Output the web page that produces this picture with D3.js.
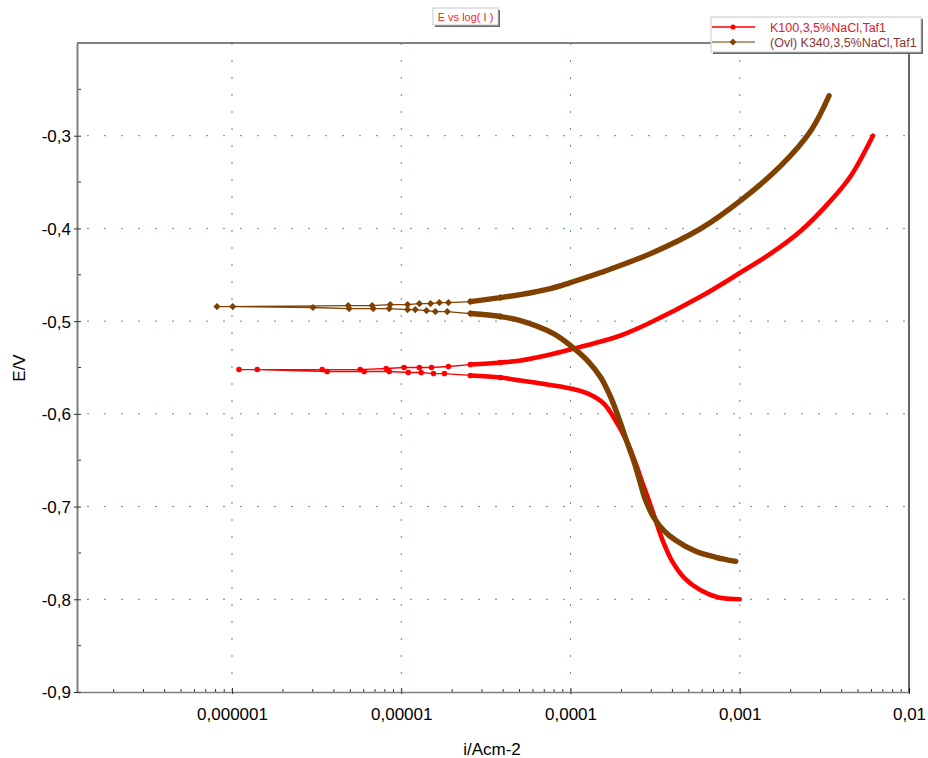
<!DOCTYPE html>
<html>
<head>
<meta charset="utf-8">
<script src="https://cdn.jsdelivr.net/npm/d3@7"></script>
<style>
  html, body { margin: 0; padding: 0; background: #fff; }
  svg { display: block; font-family: "Liberation Sans", Arial, sans-serif; }
</style>
</head>
<body>
<svg id="chart" width="928" height="758"></svg>
<script>
// ---- data (i in A/cm², E in V), in scan order ----
const seriesNames = ["K100,3,5%NaCl,Taf1", "(Ovl) K340,3,5%NaCl,Taf1"];
const k100 = [
  [1.0e-3, -0.800], [7.41e-4, -0.7978], [5.88e-4, -0.7903], [4.73e-4, -0.7774],
  [3.96e-4, -0.7580], [3.50e-4, -0.7364], [3.14e-4, -0.7116], [2.90e-4, -0.6933],
  [2.63e-4, -0.6718], [2.39e-4, -0.6502], [2.14e-4, -0.6287], [1.80e-4, -0.6039],
  [1.57e-4, -0.5888], [1.26e-4, -0.5780], [1.00e-4, -0.5726], [7.93e-5, -0.5694],
  [5.06e-5, -0.5640], [3.85e-5, -0.5608], [2.56e-5, -0.5586],
  [1.80e-5, -0.5565], [1.55e-5, -0.5565], [1.31e-5, -0.5554], [1.10e-5, -0.5554],
  [8.49e-6, -0.5543], [6.04e-6, -0.5543], [3.65e-6, -0.5543], [1.41e-6, -0.5522],
  [1.10e-6, -0.5522], [3.41e-6, -0.5522], [5.72e-6, -0.5522], [8.15e-6, -0.5511],
  [1.04e-5, -0.5500], [1.28e-5, -0.5500], [1.51e-5, -0.5500], [1.90e-5, -0.5489],
  [2.56e-5, -0.5468], [3.85e-5, -0.5446], [5.06e-5, -0.5425], [7.62e-5, -0.5360],
  [1.00e-4, -0.5306], [1.51e-4, -0.5220], [1.98e-4, -0.5155], [2.97e-4, -0.5015],
  [5.88e-4, -0.4735], [1.01e-3, -0.4476], [1.52e-3, -0.4272], [2.30e-3, -0.4024],
  [3.45e-3, -0.3700], [4.54e-3, -0.3431], [6.12e-3, -0.3000]
];
const k340 = [
  [9.47e-4, -0.7591], [7.21e-4, -0.7547], [5.49e-4, -0.7483], [4.18e-4, -0.7364],
  [3.55e-4, -0.7256], [3.10e-4, -0.7116], [2.78e-4, -0.6933], [2.56e-4, -0.6718],
  [2.36e-4, -0.6502], [2.14e-4, -0.6287], [1.95e-4, -0.6071], [1.73e-4, -0.5823],
  [1.51e-4, -0.5608], [1.26e-4, -0.5425], [1.00e-4, -0.5263], [7.93e-5, -0.5134],
  [5.06e-5, -0.4994], [3.85e-5, -0.4950], [2.56e-5, -0.4918],
  [1.87e-5, -0.4897], [1.59e-5, -0.4897], [1.41e-5, -0.4886],
  [1.21e-5, -0.4875], [1.09e-5, -0.4875], [8.49e-6, -0.4864], [6.83e-6, -0.4864],
  [4.92e-6, -0.4864], [3.01e-6, -0.4853], [1.01e-6, -0.4843], [8.15e-7, -0.4843],
  [4.86e-6, -0.4832], [6.73e-6, -0.4832], [8.61e-6, -0.4821], [1.09e-5, -0.4821],
  [1.28e-5, -0.4810], [1.49e-5, -0.4810], [1.68e-5, -0.4800], [1.90e-5, -0.4800],
  [2.56e-5, -0.4789], [3.85e-5, -0.4746], [5.06e-5, -0.4714], [7.62e-5, -0.4649],
  [1.00e-4, -0.4584], [1.51e-4, -0.4476], [2.97e-4, -0.4272], [5.88e-4, -0.4002],
  [1.01e-3, -0.3700], [1.75e-3, -0.3323], [2.63e-3, -0.2946], [3.37e-3, -0.2569]
];
const xTicks = [1e-6, 1e-5, 1e-4, 1e-3, 1e-2];
const xTickLabels = ["0,000001", "0,00001", "0,0001", "0,001", "0,01"];
const yTicks = [-0.9, -0.8, -0.7, -0.6, -0.5, -0.4, -0.3];
const yTickLabels = ["-0,9", "-0,8", "-0,7", "-0,6", "-0,5", "-0,4", "-0,3"];
const xDomain = [1.214e-7, 1e-2];
const yDomain = [-0.9, -0.2];

// ---- layout / style ----
const L = 77, R = 909, T = 43, B = 692;
const colors = ["#ff0000", "#804000"];
const legendLineColors = ["#ff0000", "#a07850"];
const legendTextColors = ["#d8202c", "#8a3434"];
const denseMin = 2.5e-5;   // above this current the points are packed into a thick trace
const markerMax = 4e-5;
const gridColor = "#5e9090";
const FONT = "Liberation Sans, Arial, sans-serif";

const svg = d3.select("#chart");
const x = d3.scaleLog().domain(xDomain).range([L, R]);
const y = d3.scaleLinear().domain(yDomain).range([B, T]);

// grid
const grid = svg.append("g");
xTicks.filter(v => x(v) < R - 1).forEach(v => {
  grid.append("line").attr("x1", x(v)).attr("x2", x(v)).attr("y1", T).attr("y2", B)
    .attr("stroke", gridColor).attr("stroke-width", 1).attr("stroke-dasharray", "2,15");
});
yTicks.filter(v => y(v) < B - 1).forEach(v => {
  grid.append("line").attr("x1", L).attr("x2", R).attr("y1", y(v)).attr("y2", y(v))
    .attr("stroke", gridColor).attr("stroke-width", 1).attr("stroke-dasharray", "2,15")
    .attr("stroke-dashoffset", -10);
});

// minor ticks on x (log)
const minorX = [];
for (let e = -7; e <= -3; e++) for (let m = 2; m <= 9; m++) {
  const v = m * Math.pow(10, e);
  if (v > xDomain[0] && v < xDomain[1]) minorX.push(v);
}
svg.append("g").selectAll("line").data(minorX).join("line")
  .attr("x1", d => x(d)).attr("x2", d => x(d)).attr("y1", B - 3).attr("y2", B)
  .attr("stroke", "#333").attr("stroke-width", 1);
// minor ticks on y
const minorY = d3.range(-0.85, -0.2, 0.1);
svg.append("g").selectAll("line").data(minorY).join("line")
  .attr("x1", L).attr("x2", L + 4).attr("y1", d => y(d)).attr("y2", d => y(d))
  .attr("stroke", "#333").attr("stroke-width", 1);

// axes with D3
const xAxis = d3.axisBottom(x).tickValues(xTicks).tickFormat((d, i) => xTickLabels[i])
  .tickSizeInner(4).tickSizeOuter(0).tickPadding(12);
const gx = svg.append("g").attr("transform", `translate(0,${B})`).call(xAxis);
gx.attr("font-size", null).attr("font-family", null);
gx.select(".domain").attr("stroke", "#808080").attr("stroke-width", 1.5);
gx.selectAll(".tick line").attr("stroke", "#333").attr("y1", -4).attr("y2", 2);
gx.selectAll(".tick text").style("font-size", "17px").attr("fill", "#000")
  .style("font-family", FONT);

const yAxis = d3.axisLeft(y).tickValues(yTicks).tickFormat((d, i) => yTickLabels[i])
  .tickSizeInner(3).tickSizeOuter(0).tickPadding(3);
const gy = svg.append("g").attr("transform", `translate(${L},0)`).call(yAxis);
gy.attr("font-size", null).attr("font-family", null);
gy.select(".domain").attr("stroke", "#808080").attr("stroke-width", 2);
gy.selectAll(".tick line").attr("stroke", "#333").attr("x1", -3).attr("x2", 4);
gy.selectAll(".tick text").style("font-size", "17px").attr("fill", "#000").attr("dy", "0.35em")
  .style("font-family", FONT);

// frame: top gray, right black
svg.append("line").attr("x1", L).attr("x2", R).attr("y1", T).attr("y2", T)
  .attr("stroke", "#808080").attr("stroke-width", 2);
svg.append("line").attr("x1", R).attr("x2", R).attr("y1", T).attr("y2", B)
  .attr("stroke", "#000").attr("stroke-width", 1.2);

// axis titles
svg.append("text").attr("x", 492).attr("y", 755).attr("text-anchor", "middle")
  .style("font-size", "17px").text("i/Acm-2");
svg.append("text").attr("transform", `translate(25,368) rotate(-90)`)
  .attr("text-anchor", "middle").style("font-size", "17px").text("E/V");

// series
const thin = d3.line().x(d => x(d[0])).y(d => y(d[1]));
const thick = d3.line().defined(d => d[0] >= denseMin)
  .x(d => x(d[0])).y(d => y(d[1])).curve(d3.curveCatmullRom.alpha(0.5));
const plot = svg.append("g");
const diamond = s => `M0,${-s}L${s},0L0,${s}L${-s},0Z`;

[k100, k340].forEach((data, si) => {
  const c = colors[si];
  plot.append("path").datum(data).attr("d", thin).attr("fill", "none")
    .attr("stroke", c).attr("stroke-width", 1.3);
  plot.append("path").datum(data).attr("d", thick).attr("fill", "none")
    .attr("stroke", c).attr("stroke-width", si === 0 ? 4.6 : 5.4)
    .attr("stroke-linecap", "round").attr("stroke-linejoin", "round");
  const sparse = data.filter(d => d[0] < markerMax);
  if (si === 0) {
    plot.append("g").selectAll("circle").data(sparse).join("circle")
      .attr("cx", d => x(d[0])).attr("cy", d => y(d[1])).attr("r", 2.8).attr("fill", c);
  } else {
    plot.append("g").selectAll("path").data(sparse).join("path")
      .attr("transform", d => `translate(${x(d[0])},${y(d[1])})`)
      .attr("d", diamond(3.6)).attr("fill", c);
  }
});

// title box
const tb = svg.append("g");
tb.append("rect").attr("x", 435).attr("y", 10).attr("width", 65).attr("height", 17).attr("fill", "#666");
tb.append("rect").attr("x", 433).attr("y", 8).attr("width", 65).attr("height", 17)
  .attr("fill", "#fff").attr("stroke", "#c8c8c8").attr("stroke-width", 1);
tb.append("text").attr("x", 465.5).attr("y", 21).attr("text-anchor", "middle")
  .style("font-size", "11px").attr("fill", "#ff2020").text("E vs log( I )");

// legend
const lg = svg.append("g");
lg.append("rect").attr("x", 713).attr("y", 19).attr("width", 210).attr("height", 35).attr("fill", "#666");
lg.append("rect").attr("x", 711).attr("y", 17).attr("width", 210).attr("height", 35)
  .attr("fill", "#fff").attr("stroke", "#c8c8c8").attr("stroke-width", 1);
seriesNames.forEach((name, i) => {
  const yy = 27 + i * 15;
  lg.append("line").attr("x1", 712).attr("x2", 755).attr("y1", yy).attr("y2", yy)
    .attr("stroke", legendLineColors[i]).attr("stroke-width", 1.3);
  if (i === 0) lg.append("circle").attr("cx", 733).attr("cy", yy).attr("r", 2.6).attr("fill", colors[0]);
  else lg.append("path").attr("transform", `translate(733,${yy})`).attr("d", diamond(3.4)).attr("fill", colors[1]);
  lg.append("text").attr("x", 770).attr("y", yy + 4.5).style("font-size", "12.5px")
    .attr("fill", legendTextColors[i]).text(name);
});
</script>
</body>
</html>
